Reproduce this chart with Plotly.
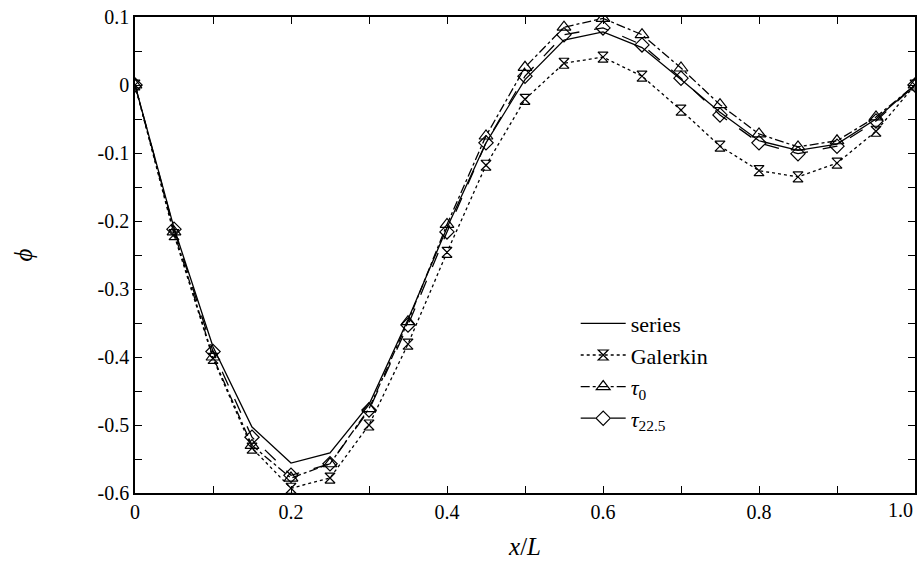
import plotly.graph_objects as go

x = [0.0, 0.05, 0.10, 0.15, 0.20, 0.25, 0.30, 0.35, 0.40, 0.45, 0.50,
     0.55, 0.60, 0.65, 0.70, 0.75, 0.80, 0.85, 0.90, 0.95, 1.0]

series = [0.0, -0.210, -0.385, -0.503, -0.556, -0.541, -0.470, -0.345, -0.210, -0.085, 0.008,
          0.066, 0.078, 0.055, 0.008, -0.040, -0.082, -0.096, -0.087, -0.050, 0.0]
galerkin = [0.0, -0.220, -0.402, -0.534, -0.593, -0.578, -0.500, -0.381, -0.246, -0.118, -0.021,
            0.032, 0.041, 0.013, -0.037, -0.090, -0.126, -0.135, -0.115, -0.068, 0.0]
tau0 = [0.0, -0.216, -0.400, -0.530, -0.578, -0.557, -0.476, -0.348, -0.205, -0.075, 0.026,
        0.085, 0.098, 0.074, 0.025, -0.029, -0.072, -0.091, -0.082, -0.047, 0.0]
tau225 = [0.0, -0.212, -0.392, -0.518, -0.574, -0.557, -0.478, -0.353, -0.216, -0.085, 0.013,
          0.074, 0.084, 0.059, 0.010, -0.044, -0.085, -0.101, -0.090, -0.053, 0.0]

xtick_vals = [0, 0.2, 0.4, 0.6, 0.8, 1.0]
xtick_text = ["0", "0.2", "0.4", "0.6", "0.8", "1.0"]
ytick_vals = [0.1, 0, -0.1, -0.2, -0.3, -0.4, -0.5, -0.6]
ytick_text = ["0.1", "0", "-0.1", "-0.2", "-0.3", "-0.4", "-0.5", "-0.6"]

FONT = "Liberation Serif, DejaVu Serif, serif"

fig = go.Figure()
fig.add_trace(go.Scatter(x=x, y=series, mode="lines", name="series",
                         line=dict(color="black", width=1.3)))
fig.add_trace(go.Scatter(x=x, y=galerkin, mode="lines+markers", name="Galerkin",
                         line=dict(color="black", width=1.3, dash="dot"),
                         marker=dict(symbol="hourglass-open", size=10, color="black",
                                     line=dict(width=1.2, color="black"))))
fig.add_trace(go.Scatter(x=x, y=tau0, mode="lines+markers", name="<i>τ</i><sub>0</sub>",
                         line=dict(color="black", width=1.3, dash="dashdot"),
                         marker=dict(symbol="triangle-up-open", size=12, color="black",
                                     line=dict(width=1.2, color="black"))))
fig.add_trace(go.Scatter(x=x, y=tau225, mode="lines+markers", name="<i>τ</i><sub>22.5</sub>",
                         line=dict(color="black", width=1.3, dash="longdash"),
                         marker=dict(symbol="diamond-open", size=11, color="black",
                                     line=dict(width=1.2, color="black"))))

axis_common = dict(showline=True, linecolor="black", linewidth=1.5, mirror="allticks",
                   ticks="inside", ticklen=7, tickcolor="black", tickwidth=1,
                   showgrid=False, zeroline=False, ticklabeloverflow="allow",
                   automargin=False,
                   tickfont=dict(family=FONT, size=20, color="black"))

# last x label drawn as an annotation, right-aligned to the axis end so it stays inside the page
fig.update_xaxes(range=[0, 1.0],
                 tickvals=xtick_vals, ticktext=xtick_text[:-1] + [""],
                 minor=dict(dtick=0.1, tick0=0, ticks="inside", ticklen=7, tickcolor="black"),
                 title=dict(text="<i>x</i>/<i>L</i>", font=dict(family=FONT, size=25, color="black"),
                            standoff=16),
                 **axis_common)
fig.add_annotation(x=xtick_vals[-1], xref="x", y=0, yref="paper", yanchor="top",
                   xanchor="right", yshift=-4, showarrow=False, text=xtick_text[-1],
                   font=dict(family=FONT, size=20, color="black"))
fig.update_yaxes(range=[-0.6, 0.1],
                 tickvals=ytick_vals, ticktext=ytick_text,
                 minor=dict(dtick=0.05, tick0=0, ticks="inside", ticklen=7, tickcolor="black"),
                 title=dict(text="<i>ϕ</i>", font=dict(family=FONT, size=25, color="black"),
                            standoff=58),
                 **axis_common)

fig.update_layout(
    width=920, height=576,
    margin=dict(l=135, r=5, t=17, b=83),
    paper_bgcolor="white", plot_bgcolor="white",
    font=dict(family=FONT, color="black"),
    showlegend=True,
    legend=dict(x=0.565, y=0.40, xanchor="left", yanchor="top",
                bgcolor="rgba(0,0,0,0)", borderwidth=0,
                font=dict(family=FONT, size=22, color="black"),
                itemwidth=45, tracegroupgap=2),
)

fig.write_html("out.html", config={"displayModeBar": False},
               post_script="document.body.style.margin='0';document.body.style.padding='0';")
